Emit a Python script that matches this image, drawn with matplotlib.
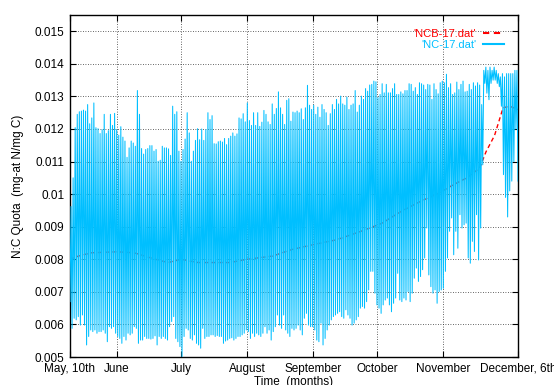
import numpy as np
import matplotlib
matplotlib.use("Agg")
import matplotlib.pyplot as plt

plt.rcParams['font.family'] = ['Liberation Sans', 'DejaVu Sans']

# ---- data ----
# NC-17.dat : daily minima (troughs) and maxima (peaks), alternating trough/peak
trough_a = [0.00670, 0.00588, 0.00619, 0.00614, 0.00624, 0.00598, 0.00629, 0.00598, 0.00537, 0.00563,
            0.00583, 0.00578, 0.00583, 0.00573, 0.00578, 0.00578, 0.00583, 0.00573, 0.00547, 0.00593,
            0.00588, 0.00593, 0.00573, 0.00563, 0.00557, 0.00542, 0.00563, 0.00552, 0.00573, 0.00568,
            0.00573, 0.00593, 0.00588, 0.00542, 0.00552, 0.00552, 0.00563, 0.00557, 0.00557, 0.00555,
            0.00557, 0.00565, 0.00537, 0.00563, 0.00557, 0.00563, 0.00557, 0.00552, 0.00593, 0.00609,
            0.00624, 0.00557, 0.00547]
peak_a = [0.00962, 0.01050, 0.01204, 0.01245, 0.01253, 0.01255, 0.01258, 0.01255, 0.01275, 0.01216,
          0.01234, 0.01280, 0.01204, 0.01201, 0.01186, 0.01198, 0.01245, 0.01186, 0.01195, 0.01245,
          0.01211, 0.01248, 0.01198, 0.01181, 0.01207, 0.01175, 0.01163, 0.01113, 0.01142, 0.01163,
          0.01157, 0.01147, 0.01318, 0.01245, 0.01140, 0.01123, 0.01137, 0.01140, 0.01149, 0.01149,
          0.01132, 0.01137, 0.01101, 0.01104, 0.01147, 0.01142, 0.01142, 0.01139, 0.01119, 0.01270,
          0.01245, 0.01253, 0.01132]
trough_b = [0.00532, 0.00501, 0.00563, 0.00588, 0.00583, 0.00557, 0.00552, 0.00568, 0.00542, 0.00537,
            0.00527, 0.00588, 0.00557, 0.00563, 0.00563, 0.00568, 0.00568, 0.00563, 0.00566, 0.00563,
            0.00563, 0.00542, 0.00549, 0.00552, 0.00557, 0.00559, 0.00552, 0.00557, 0.00563, 0.00563,
            0.00568, 0.00573, 0.00583, 0.00578, 0.00557, 0.00573, 0.00563, 0.00573, 0.00568, 0.00563,
            0.00573, 0.00593, 0.00573, 0.00583, 0.00552, 0.00578, 0.00593, 0.00629, 0.00598, 0.00588,
            0.00629, 0.00583, 0.00573]
peak_b = [0.01101, 0.01137, 0.01169, 0.01250, 0.01188, 0.01101, 0.01132, 0.01165, 0.01201, 0.01167,
          0.01200, 0.01165, 0.01198, 0.01250, 0.01229, 0.01241, 0.01155, 0.01154, 0.01161, 0.01163,
          0.01160, 0.01171, 0.01152, 0.01171, 0.01178, 0.01188, 0.01178, 0.01185, 0.01234, 0.01231,
          0.01247, 0.01222, 0.01280, 0.01226, 0.01211, 0.01250, 0.01211, 0.01250, 0.01208, 0.01221,
          0.01257, 0.01245, 0.01222, 0.01214, 0.01277, 0.01245, 0.01263, 0.01314, 0.01265, 0.01245,
          0.01214, 0.01288, 0.01293]
trough_c = [0.00563, 0.00588, 0.00583, 0.00588, 0.00598, 0.00583, 0.00568, 0.00619, 0.00634, 0.00598,
            0.00593, 0.00593, 0.00583, 0.00552, 0.00547, 0.00604, 0.00537, 0.00557, 0.00583, 0.00598,
            0.00614, 0.00624, 0.00629, 0.00634, 0.00639, 0.00624, 0.00619, 0.00645, 0.00629, 0.00619,
            0.00598, 0.00604, 0.00614, 0.00624, 0.00650, 0.00655, 0.00650, 0.00670, 0.00706, 0.00763,
            0.00763, 0.00696, 0.00660, 0.00650, 0.00634, 0.00660, 0.00675, 0.00681, 0.00660, 0.00639,
            0.00665, 0.00681, 0.00757, 0.00675, 0.00670, 0.00681]
peak_c = [0.01224, 0.01252, 0.01250, 0.01255, 0.01250, 0.01262, 0.01229, 0.01265, 0.01334, 0.01273,
          0.01260, 0.01273, 0.01245, 0.01267, 0.01236, 0.01275, 0.01260, 0.01250, 0.01211, 0.01247,
          0.01275, 0.01260, 0.01291, 0.01277, 0.01301, 0.01277, 0.01273, 0.01298, 0.01260, 0.01273,
          0.01277, 0.01318, 0.01252, 0.01273, 0.01301, 0.01291, 0.01324, 0.01316, 0.01335, 0.01337,
          0.01347, 0.01345, 0.01296, 0.01306, 0.01339, 0.01311, 0.01337, 0.01311, 0.01311, 0.01324,
          0.01339, 0.01306, 0.01306, 0.01314, 0.01308, 0.01318]
trough_d = [0.00675, 0.00701, 0.00670, 0.00696, 0.00742, 0.00773, 0.00732, 0.00747, 0.00768, 0.00804,
            0.00896, 0.00752, 0.00716, 0.00696, 0.00706, 0.00665, 0.00701, 0.00706, 0.00711, 0.00763,
            0.00804, 0.00886, 0.00927, 0.00814, 0.00886, 0.00834, 0.00937, 0.00896, 0.00906, 0.00911,
            0.00804, 0.00788, 0.00855, 0.00824, 0.00937, 0.00798, 0.00896,
            0.0109, 0.0134, 0.0131, 0.0129, 0.0134, 0.0135, 0.0135, 0.0134, 0.0133, 0.0127,
            0.0106, 0.0099, 0.0093, 0.0101, 0.0104, 0.0110, 0.0120, 0.0104]
peak_d = [0.01318, 0.01339, 0.01337, 0.01316, 0.01327, 0.01306, 0.01342, 0.01339, 0.01335, 0.01321,
          0.01337, 0.01335, 0.01291, 0.01339, 0.01321, 0.01308, 0.01342, 0.01347, 0.01342, 0.01368,
          0.01327, 0.01339, 0.01306, 0.01311, 0.01344, 0.01321, 0.01337, 0.01347, 0.01314, 0.01316,
          0.01337, 0.01321, 0.01342, 0.01332, 0.01342, 0.01335, 0.01275,
          0.0138, 0.0139, 0.0138, 0.0139, 0.0138, 0.0139, 0.0138, 0.0137, 0.0136, 0.0137,
          0.0136, 0.0137, 0.0137, 0.0137, 0.0137, 0.0138, 0.0138]

# NCB-17.dat : smooth trend (day since May 10th, value)
ncb_day = [0, 4, 10, 22, 30, 40, 46, 52, 60, 67, 75, 83, 95, 104, 114, 125, 136, 146,
           156, 165, 172, 180, 186, 192, 195, 199, 203, 206, 210]
ncb_val = [0.0080, 0.0081, 0.0082, 0.00823, 0.0082, 0.0080, 0.0079, 0.0080, 0.0079, 0.0079,
           0.0079, 0.0080, 0.0081, 0.0083, 0.00845, 0.0086, 0.00885, 0.0091, 0.0095, 0.0098,
           0.0100, 0.0103, 0.0105, 0.0108, 0.0113, 0.0118, 0.01265, 0.0127, 0.0126]

tick_days = [0, 22, 52, 83, 114, 144, 175, 210]
tick_labels = ["May, 10th", "June", "July", "August", "September", "October", "November", "December, 6th"]
span_days = 210

# ---- build series ----
troughs = trough_a + trough_b + trough_c + trough_d
peaks = peak_a + peak_b + peak_c + peak_d
nc = []
for i in range(len(peaks)):
    nc.append(troughs[i])
    nc.append(peaks[i])
nc.append(troughs[len(peaks)])
nc_t = np.linspace(0, span_days, len(nc))

# ---- plot ----
fig = plt.figure(figsize=(5.54, 3.85), dpi=100)
ax = fig.add_axes([70 / 554, 1 - 357 / 385, 448 / 554, 342 / 385])

ax.plot(ncb_day, ncb_val, color='#ff0000', lw=1.0, ls=(0, (3, 2.2)), label="'NCB-17.dat'", zorder=2)
ax.plot(nc_t, nc, color='#00bfff', lw=0.75, label="'NC-17.dat'", zorder=3)

ax.set_xlim(0, span_days)
ax.set_ylim(0.005, 0.0155)
ax.set_xticks(tick_days)
ax.set_xticklabels(tick_labels)
yt = np.round(np.arange(0.005, 0.01501, 0.001), 3)
ax.set_yticks(yt)
ax.set_yticklabels([('%g' % v) for v in yt])

ax.tick_params(direction='in', length=4, width=0.8, top=True, right=True,
               labelsize=8.5, pad=4, colors='black')
ax.grid(True, color='#333333', lw=0.6, ls=(0, (1, 2)))
for s in ax.spines.values():
    s.set_linewidth(1.0)
    s.set_color('black')

ax.set_xlabel("Time  (months)", fontsize=8.5, labelpad=1)
ax.set_ylabel("N:C Quota  (mg-at N/mg C)", fontsize=8.5, labelpad=8)

leg = ax.legend(loc='upper right', markerfirst=False, frameon=False, labelcolor='linecolor',
                fontsize=8, handlelength=1.9, handletextpad=0.6, borderaxespad=0.5,
                borderpad=0.75, labelspacing=0.12)
for line in leg.get_lines():
    line.set_linewidth(1.5)

fig.savefig("out.png", dpi=100)
